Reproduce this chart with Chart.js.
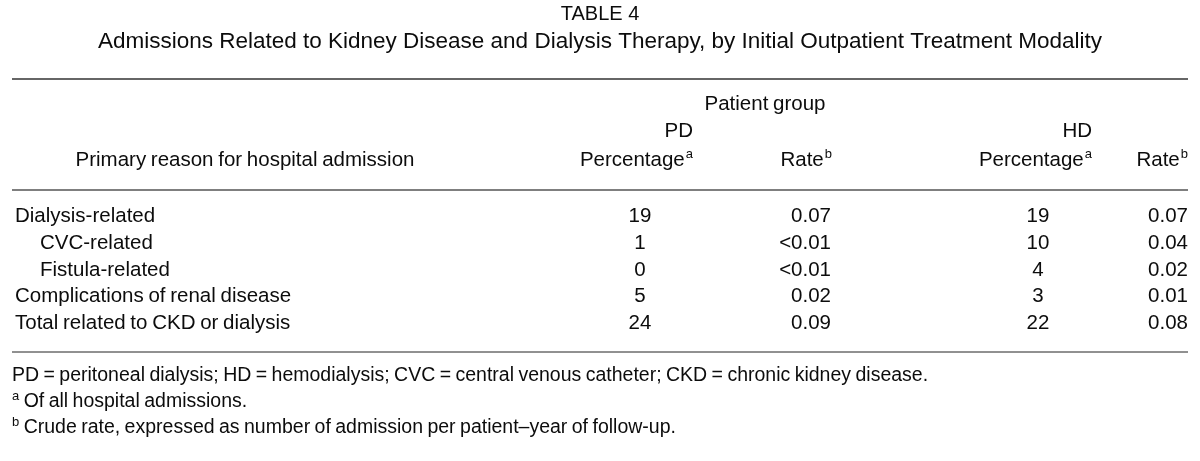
<!DOCTYPE html>
<html>
<head>
<meta charset="utf-8">
<script src="https://cdn.jsdelivr.net/npm/chart.js@4.4.1/dist/chart.umd.min.js"></script>
<style>
  html, body { margin: 0; padding: 0; background: #fff; }
  #wrap { width: 1200px; height: 461px; position: relative; }
</style>
</head>
<body>
<div id="wrap"><canvas id="table4"></canvas></div>
<script>
// table rows (top to bottom)
const rowLabels = [
  'Dialysis-related',
  'CVC-related',
  'Fistula-related',
  'Complications of renal disease',
  'Total related to CKD or dialysis'
];
const rowIndent = [false, true, true, false, false];

// values per patient group
const pdPercentage = [19, 1, 0, 5, 24];
const pdRate = [0.07, '<0.01', '<0.01', 0.02, 0.09];
const hdPercentage = [19, 10, 4, 3, 22];
const hdRate = [0.07, 0.04, 0.02, 0.01, 0.08];

const footnotes = [
  ['', 'PD = peritoneal dialysis; HD = hemodialysis; CVC = central venous catheter; CKD = chronic kidney disease.'],
  ['a', ' Of all hospital admissions.'],
  ['b', ' Crude rate, expressed as number of admission per patient\u2013year of follow-up.']
];

const FONT = '"Liberation Sans", Arial, sans-serif';
const INK = '#0c0c0c';
const BODY = 20.5;
const SUP = 13;

// where each column sits on the x scale (0..1200 = table width)
const colAnchor = { pdPct: 640, pdRate: 831, hdPct: 1038, hdRate: 1188 };

function fmtRate(v) {
  return typeof v === 'number' ? v.toFixed(2) : v;
}

function columnData(values, anchor) {
  return values.map((v, i) => ({ x: anchor, y: rowLabels[i], v: v }));
}

// text with a small raised letter after it
function supText(ctx, text, sup, x, y, align, size) {
  size = size || BODY;
  ctx.font = size + 'px ' + FONT;
  const w = ctx.measureText(text).width;
  ctx.font = SUP + 'px ' + FONT;
  const ws = sup ? ctx.measureText(sup).width + 1 : 0;
  let x0 = x;
  if (align === 'right') x0 = x - w - ws;
  if (align === 'center') x0 = x - (w + ws) / 2;
  ctx.textAlign = 'left';
  ctx.font = size + 'px ' + FONT;
  ctx.fillText(text, x0, y);
  if (sup) {
    ctx.font = SUP + 'px ' + FONT;
    ctx.fillText(sup, x0 + w + 1, y - 6);
  }
}

function rule(ctx, y, x1, x2, width, color) {
  ctx.save();
  ctx.strokeStyle = color;
  ctx.lineWidth = width;
  ctx.beginPath();
  ctx.moveTo(x1, y);
  ctx.lineTo(x2, y);
  ctx.stroke();
  ctx.restore();
}

const tablePlugin = {
  id: 'tableText',
  afterDatasetsDraw(chart) {
    const ctx = chart.ctx;
    const area = chart.chartArea;
    const xs = chart.scales.x;
    const ys = chart.scales.y;
    const left = xs.getPixelForValue(12);
    const right = xs.getPixelForValue(1188);
    ctx.save();
    ctx.fillStyle = INK;
    ctx.textBaseline = 'middle';
    ctx.wordSpacing = '-1px';

    // rules
    rule(ctx, area.top - 124, left, right, 2, '#666');
    rule(ctx, area.top - 13, left, right, 1.5, '#555');
    rule(ctx, area.bottom + 15, left, right, 1, '#222');

    // column heads
    supText(ctx, 'Patient group', '', xs.getPixelForValue(765), area.top - 99, 'center');
    supText(ctx, 'PD', '', xs.getPixelForValue(693), area.top - 72, 'right');
    supText(ctx, 'HD', '', xs.getPixelForValue(1092), area.top - 72, 'right');
    const hy = area.top - 43;
    supText(ctx, 'Primary reason for hospital admission', '', xs.getPixelForValue(245), hy, 'center');
    supText(ctx, 'Percentage', 'a', xs.getPixelForValue(693), hy, 'right');
    supText(ctx, 'Rate', 'b', xs.getPixelForValue(832), hy, 'right');
    supText(ctx, 'Percentage', 'a', xs.getPixelForValue(1092), hy, 'right');
    supText(ctx, 'Rate', 'b', xs.getPixelForValue(1188), hy, 'right');

    // row labels
    rowLabels.forEach((lab, i) => {
      const x = xs.getPixelForValue(rowIndent[i] ? 40 : 15);
      supText(ctx, lab, '', x, ys.getPixelForValue(i), 'left');
    });

    // cells, placed at each point the library laid out
    chart.data.datasets.forEach((ds, di) => {
      const meta = chart.getDatasetMeta(di);
      meta.data.forEach((pt, i) => {
        const raw = ds.data[i].v;
        const txt = ds.isRate ? fmtRate(raw) : String(raw);
        supText(ctx, txt, '', pt.x, pt.y, ds.cellAlign);
      });
    });

    // footnotes
    footnotes.forEach((f, i) => {
      const y = area.bottom + 39 + i * 26;
      if (f[0]) {
        ctx.font = SUP + 'px ' + FONT;
        ctx.textAlign = 'left';
        ctx.fillText(f[0], left, y - 6);
        const ws = ctx.measureText(f[0]).width;
        supText(ctx, f[1], '', left + ws, y, 'left', 19.5);
      } else {
        supText(ctx, f[1], '', left, y, 'left', 19.5);
      }
    });
    ctx.restore();
  }
};

function cellSet(label, values, anchor, isRate, align) {
  return {
    label: label,
    data: columnData(values, anchor),
    isRate: isRate,
    cellAlign: align,
    pointRadius: 0,
    pointHoverRadius: 0,
    showLine: false
  };
}

new Chart(document.getElementById('table4'), {
  type: 'scatter',
  data: {
    datasets: [
      cellSet('PD Percentage', pdPercentage, colAnchor.pdPct, false, 'center'),
      cellSet('PD Rate', pdRate, colAnchor.pdRate, true, 'right'),
      cellSet('HD Percentage', hdPercentage, colAnchor.hdPct, false, 'center'),
      cellSet('HD Rate', hdRate, colAnchor.hdRate, true, 'right')
    ]
  },
  plugins: [tablePlugin],
  options: {
    responsive: true,
    maintainAspectRatio: false,
    animation: false,
    events: [],
    layout: { padding: { top: 0, left: 0, right: 0, bottom: 124 } },
    scales: {
      x: { type: 'linear', min: 0, max: 1200, display: false },
      y: { type: 'category', labels: rowLabels, offset: true, display: false }
    },
    plugins: {
      legend: { display: false },
      tooltip: { enabled: false },
      title: {
        display: true,
        text: 'TABLE 4',
        color: INK,
        font: { family: FONT, size: 20, weight: 'normal', lineHeight: 1.2 },
        padding: { top: 2, bottom: 2 }
      },
      subtitle: {
        display: true,
        text: 'Admissions Related to Kidney Disease and Dialysis Therapy, by Initial Outpatient Treatment Modality',
        color: INK,
        font: { family: FONT, size: 22.5, weight: 'normal', lineHeight: 1.2 },
        padding: { top: 0, bottom: 148 }
      }
    }
  }
});
</script>
</body>
</html>
